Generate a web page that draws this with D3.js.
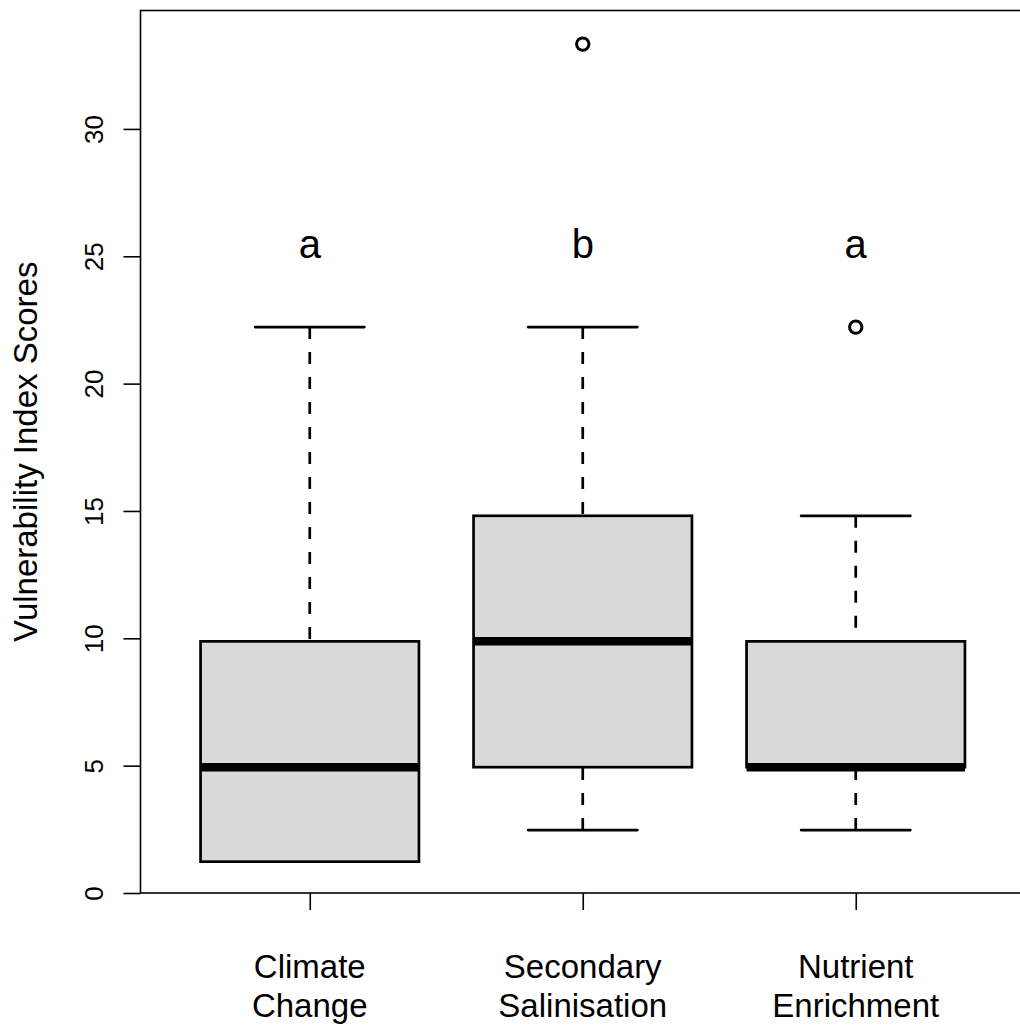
<!DOCTYPE html>
<html>
<head>
<meta charset="utf-8">
<script src="https://cdn.jsdelivr.net/npm/d3@7"></script>
<style>
  html, body { margin: 0; padding: 0; background: #fff; }
  svg { display: block; font-family: "Liberation Sans", Arial, Helvetica, sans-serif; }
</style>
</head>
<body>
<div class="chart"></div>
<script>
// boxplot stats
const categories = [["Climate", "Change"], ["Secondary", "Salinisation"], ["Nutrient", "Enrichment"]]
const lowerWhisker = [1.23, 2.47, 2.47]
const q1 = [1.23, 4.94, 4.94]
const medians = [4.94, 9.88, 4.94]
const q3 = [9.88, 14.81, 9.88]
const upperWhisker = [22.22, 22.22, 14.81]
const outliers = [[], [33.33], [22.22]]
const groupLetters = ["a", "b", "a"]
const yTicks = [0, 5, 10, 15, 20, 25, 30]

const width = 1020
const height = 1027

const plot = { left: 140.5, right: 1025, top: 10.5, bottom: 893 }

const svg = d3.select(".chart")
    .append("svg")
    .attr("width", width)
    .attr("height", height)

const xScale = d3.scaleLinear()
    .domain([0.38, 3.62])
    .range([plot.left, plot.right])

const yScale = d3.scaleLinear()
    .domain([0, 34.65])
    .range([plot.bottom, plot.top])

const groups = categories.map((c, i) => ({
    i: i,
    label: c,
    lo: lowerWhisker[i],
    q1: q1[i],
    med: medians[i],
    q3: q3[i],
    hi: upperWhisker[i],
    out: outliers[i],
    letter: groupLetters[i]
}))

const boxW = 0.8 * (xScale(2) - xScale(1))
const stapleW = boxW / 2

// whiskers, drawn from the staple towards the box like R does
const g = svg.append("g")
groups.forEach(d => {
    const cx = xScale(d.i + 1)
    if (d.lo < d.q1) {
        g.append("line")
            .attr("x1", cx).attr("x2", cx)
            .attr("y1", yScale(d.lo)).attr("y2", yScale(d.q1))
            .attr("stroke", "#000").attr("stroke-width", 2.7)
            .attr("stroke-dasharray", "12,13")
    }
    g.append("line")
        .attr("x1", cx).attr("x2", cx)
        .attr("y1", yScale(d.hi)).attr("y2", yScale(d.q3))
        .attr("stroke", "#000").attr("stroke-width", 2.7)
        .attr("stroke-dasharray", "12,13")

    // staples
    ;[d.lo, d.hi].forEach(v => {
        g.append("line")
            .attr("x1", cx - stapleW / 2).attr("x2", cx + stapleW / 2)
            .attr("y1", yScale(v)).attr("y2", yScale(v))
            .attr("stroke", "#000").attr("stroke-width", 2.7)
            .attr("stroke-linecap", "round")
    })
})

// boxes
g.selectAll("rect.box")
    .data(groups)
    .enter()
    .append("rect")
    .attr("class", "box")
    .attr("x", d => xScale(d.i + 1) - boxW / 2)
    .attr("width", boxW)
    .attr("y", d => yScale(d.q3))
    .attr("height", d => yScale(d.q1) - yScale(d.q3))
    .attr("fill", "#d9d9d9")
    .attr("stroke", "#000")
    .attr("stroke-width", 2.7)

// medians
g.selectAll("line.median")
    .data(groups)
    .enter()
    .append("line")
    .attr("class", "median")
    .attr("x1", d => xScale(d.i + 1) - boxW / 2)
    .attr("x2", d => xScale(d.i + 1) + boxW / 2)
    .attr("y1", d => yScale(d.med))
    .attr("y2", d => yScale(d.med))
    .attr("stroke", "#000")
    .attr("stroke-width", 8.5)

// outliers
groups.forEach(d => {
    g.selectAll(null)
        .data(d.out)
        .enter()
        .append("circle")
        .attr("cx", xScale(d.i + 1))
        .attr("cy", v => yScale(v))
        .attr("r", 6.2)
        .attr("fill", "none")
        .attr("stroke", "#000")
        .attr("stroke-width", 3)
})

// significance letters
g.selectAll("text.letter")
    .data(groups)
    .enter()
    .append("text")
    .attr("class", "letter")
    .attr("x", d => xScale(d.i + 1))
    .attr("y", yScale(25) + 1.5)
    .attr("text-anchor", "middle")
    .style("font-size", "40px")
    .text(d => d.letter)

// frame
svg.append("rect")
    .attr("x", plot.left)
    .attr("y", plot.top)
    .attr("width", plot.right - plot.left)
    .attr("height", plot.bottom - plot.top)
    .attr("fill", "none")
    .attr("stroke", "#000")
    .attr("stroke-width", 1.6)

// y axis
const yAxis = svg.append("g")
    .attr("transform", `translate(${plot.left},0)`)
    .call(d3.axisLeft(yScale).tickValues(yTicks).tickSize(17).tickFormat(d3.format("d")))
yAxis.select(".domain").remove()
yAxis.selectAll("line").attr("stroke", "#000").attr("stroke-width", 1.6)
yAxis.selectAll("text")
    .attr("x", null)
    .attr("dy", null)
    .attr("fill", "#000")
    .attr("text-anchor", "middle")
    .attr("transform", "translate(-38,0) rotate(-90)")
    .style("font-size", "26px")
    .style("font-family", "\"Liberation Sans\", Arial, sans-serif")

// x axis
const xAxis = svg.append("g")
    .attr("transform", `translate(0,${plot.bottom})`)
    .call(d3.axisBottom(xScale).tickValues([1, 2, 3]).tickSize(17).tickFormat(""))
xAxis.select(".domain").remove()
xAxis.selectAll("line").attr("stroke", "#000").attr("stroke-width", 1.6)

const catLabels = svg.selectAll("text.cat")
    .data(groups)
    .enter()
    .append("text")
    .attr("class", "cat")
    .attr("text-anchor", "middle")
    .style("font-size", "33px")
catLabels.selectAll("tspan")
    .data(d => d.label.map(l => ({ l: l, x: xScale(d.i + 1) })))
    .enter()
    .append("tspan")
    .attr("x", t => t.x)
    .attr("y", (t, j) => 978 + j * 39)
    .text(t => t.l)

// y title
svg.append("text")
    .attr("transform", `translate(37,${(plot.top + plot.bottom) / 2}) rotate(-90)`)
    .attr("text-anchor", "middle")
    .style("font-size", "33px")
    .text("Vulnerability Index Scores")
</script>
</body>
</html>
